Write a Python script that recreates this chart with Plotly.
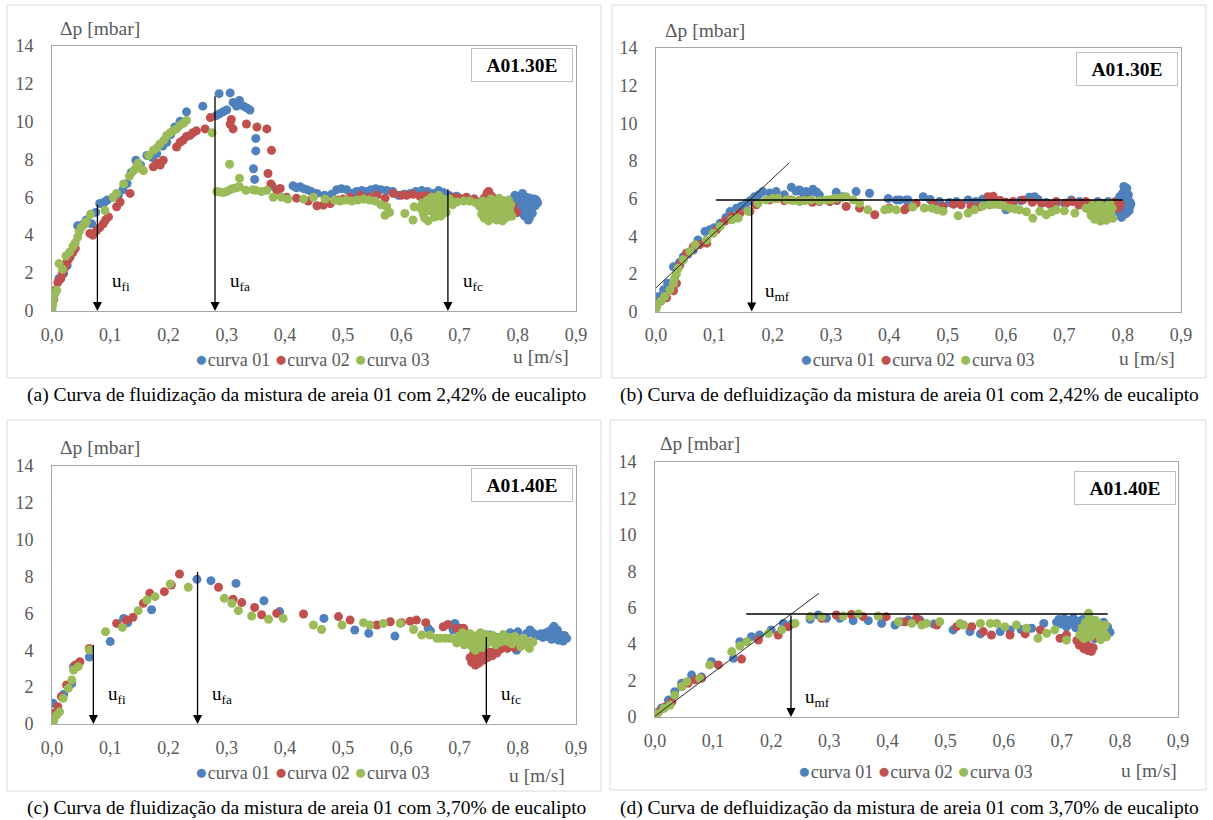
import plotly.graph_objects as go

# ---------------------------------------------------------------------------
# Measured bed pressure drop (mbar) against superficial velocity u (m/s)
# (u, dp) pairs for each run ("curva") of each test
# ---------------------------------------------------------------------------

# (a) fluidization, A01.30E
A_CURVA01 = [(0.000,0.40),(0.002,0.67),(0.006,1.00),(0.012,1.72),(0.020,1.98),(0.026,2.40),(0.031,2.86),(0.038,3.30),
    (0.044,4.49),(0.052,4.55),(0.059,4.80),(0.068,4.60),(0.075,5.20),(0.082,5.67),(0.090,5.75),(0.095,5.85),
    (0.105,6.00),(0.114,6.10),(0.122,6.40),(0.129,6.72),(0.136,7.30),(0.144,7.95),(0.152,7.70),(0.163,8.20),
    (0.172,8.10),(0.180,8.30),(0.190,8.70),(0.197,8.90),(0.204,9.30),(0.211,9.70),(0.220,10.00),(0.231,10.50),
    (0.259,10.80),(0.282,10.30),(0.287,11.46),(0.288,10.40),(0.294,10.50),(0.300,10.60),(0.306,11.50),(0.311,11.00),
    (0.317,10.80),(0.322,11.10),(0.329,10.80),(0.335,10.70),(0.340,10.60),(0.350,9.10),(0.350,8.44),(0.346,7.50),
    (0.348,6.94),(0.378,6.60),(0.414,6.60),(0.420,6.50),(0.426,6.55),(0.432,6.45),(0.438,6.40),(0.445,6.30),
    (0.455,6.20),(0.468,6.10),(0.480,6.15),(0.489,6.40),(0.497,6.45),(0.506,6.40),(0.515,6.20),(0.523,6.30),
    (0.532,6.35),(0.540,6.30),(0.548,6.40),(0.556,6.45),(0.565,6.40),(0.575,6.35),(0.585,6.30),(0.595,6.10),
    (0.605,6.15),(0.615,6.20),(0.625,6.30),(0.635,6.35),(0.645,6.30),(0.655,6.20),(0.664,6.35),(0.672,6.25),
    (0.682,6.10),(0.695,6.05),(0.710,5.95),(0.725,5.90),(0.740,5.85),(0.760,5.90),(0.775,5.80),
    (0.790,5.40),(0.792,5.90),(0.795,6.10),(0.798,5.60),(0.800,5.20),(0.802,6.00),(0.805,5.70),(0.806,5.35),
    (0.808,6.20),(0.810,5.50),(0.811,5.05),(0.813,5.80),(0.815,6.00),(0.816,5.30),(0.818,5.60),(0.820,4.90),
    (0.821,5.95),(0.823,5.45),(0.825,5.15),(0.826,5.75),(0.828,5.90),(0.830,5.55),(0.832,5.85),(0.834,5.70),
    (0.818,4.80),(0.812,5.00)]
A_CURVA02 = [(0.000,0.30),(0.003,0.60),(0.005,1.10),(0.010,1.50),(0.015,1.70),(0.018,1.98),(0.022,2.30),(0.024,2.50),
    (0.028,2.70),(0.031,2.86),(0.036,3.10),(0.040,3.30),(0.065,4.09),(0.070,4.00),(0.077,4.26),(0.082,4.40),
    (0.088,4.60),(0.092,4.80),(0.097,4.96),(0.111,5.50),(0.117,5.75),(0.134,6.20),(0.174,7.60),(0.180,7.80),
    (0.186,7.70),(0.191,7.95),(0.214,8.65),(0.220,8.90),(0.225,9.00),(0.231,9.20),(0.237,9.26),(0.242,9.40),
    (0.248,9.50),(0.263,9.60),(0.272,10.20),(0.306,9.86),(0.311,9.60),(0.308,10.10),(0.334,9.86),(0.352,9.70),
    (0.369,9.60),(0.377,8.47),(0.371,7.25),(0.376,6.70),(0.386,6.37),(0.392,6.46),(0.403,6.00),(0.420,5.95),
    (0.440,5.80),(0.455,5.55),(0.466,5.58),(0.478,5.66),(0.490,5.85),(0.500,5.90),(0.512,6.00),(0.530,6.10),
    (0.545,6.00),(0.558,6.10),(0.572,5.95),(0.586,6.20),(0.600,6.10),(0.609,6.10),(0.620,6.15),(0.632,6.05),
    (0.643,6.10),(0.655,6.00),(0.668,5.95),(0.689,6.00),(0.700,5.95),(0.712,6.00),(0.725,5.90),(0.735,5.70),
    (0.742,5.95),(0.747,6.20),(0.750,6.30),(0.752,5.80),(0.755,6.05),(0.758,5.90),(0.760,5.40),(0.765,5.65),
    (0.770,5.50),(0.775,5.30),(0.780,5.60),(0.785,5.75),(0.792,5.50),(0.798,5.20)]
A_CURVA03 = [(0.000,0.05),(0.001,0.30),(0.002,0.60),(0.005,0.90),(0.008,1.10),(0.012,2.50),(0.018,2.20),(0.024,2.90),
    (0.030,3.10),(0.036,3.40),(0.040,3.60),(0.044,3.90),(0.047,4.20),(0.050,4.40),(0.055,4.55),(0.059,4.70),
    (0.066,5.10),(0.091,5.30),(0.105,6.00),(0.111,6.20),(0.123,6.70),(0.133,7.10),(0.140,7.40),(0.145,7.60),
    (0.148,7.80),(0.153,7.50),(0.157,7.40),(0.166,8.20),(0.174,8.47),(0.180,8.60),(0.185,8.80),(0.192,9.00),
    (0.197,9.26),(0.203,9.40),(0.208,9.50),(0.214,9.60),(0.220,9.80),(0.226,9.90),(0.231,10.05),(0.275,9.40),
    (0.283,6.30),(0.288,6.28),(0.294,6.25),(0.300,6.30),(0.306,6.40),(0.311,6.46),(0.317,6.50),(0.322,6.55),
    (0.322,7.00),(0.305,7.74),(0.333,6.37),(0.345,6.40),(0.350,6.37),(0.360,6.30),(0.369,6.37),(0.380,6.00),
    (0.394,6.00),(0.405,5.90),(0.432,5.90),(0.449,6.00),(0.469,5.90),(0.485,5.85),(0.495,5.80),(0.505,5.85),
    (0.515,5.80),(0.525,5.85),(0.535,5.90),(0.545,5.85),(0.555,5.80),(0.565,5.60),(0.575,5.50),(0.572,5.05),
    (0.580,5.20),(0.606,5.14),(0.620,4.80),(0.622,5.50),
    (0.633,5.40),(0.636,5.70),(0.638,5.10),(0.640,4.90),(0.642,5.55),(0.645,5.85),(0.646,4.75),(0.648,5.30),
    (0.650,5.65),(0.652,6.00),(0.655,5.20),(0.657,4.95),(0.659,5.50),(0.661,5.80),(0.664,6.10),(0.665,5.35),
    (0.668,5.00),(0.670,5.60),(0.672,5.90),(0.675,5.45),(0.677,5.20),(0.680,5.70),(0.683,5.90),(0.688,5.60),
    (0.695,5.75),(0.707,5.80),(0.718,5.80),(0.728,5.70),
    (0.735,5.50),(0.738,5.10),(0.740,5.80),(0.742,4.90),(0.745,5.30),(0.748,5.60),(0.750,4.75),(0.752,5.15),
    (0.754,5.90),(0.756,5.40),(0.758,4.95),(0.760,5.70),(0.762,5.25),(0.764,4.80),(0.766,5.55),(0.768,5.95),
    (0.770,5.05),(0.772,5.40),(0.774,4.75),(0.776,5.75),(0.778,5.20),(0.780,5.50),(0.782,4.95),(0.784,5.85),
    (0.786,5.30),(0.788,5.60),(0.790,5.00)]

# (b) defluidization, A01.30E
B_CURVA01 = [(0.000,0.25),(0.000,0.44),(0.005,0.80),(0.013,1.15),(0.020,1.50),(0.030,2.38),(0.040,2.60),(0.047,2.91),
    (0.055,3.05),(0.064,3.27),(0.072,3.80),(0.084,4.25),(0.092,4.34),(0.100,4.45),(0.110,4.69),(0.120,5.00),
    (0.127,5.31),(0.138,5.49),(0.146,5.60),(0.155,5.75),(0.162,5.90),(0.169,6.10),(0.176,6.20),(0.183,6.37),
    (0.195,6.30),(0.206,6.37),(0.220,6.20),(0.232,6.60),(0.240,6.40),(0.246,6.46),(0.252,6.30),(0.257,6.37),
    (0.263,6.25),(0.269,6.50),(0.275,6.35),(0.280,6.20),(0.309,6.33),(0.320,6.10),(0.343,6.37),(0.366,6.28),
    (0.398,6.00),(0.412,5.93),(0.418,5.93),(0.429,5.93),(0.432,5.93),(0.458,6.10),(0.470,5.95),(0.486,5.84),
    (0.503,5.79),(0.515,5.84),(0.535,5.93),(0.548,5.85),(0.560,5.97),(0.572,5.67),(0.585,5.80),(0.600,5.40),
    (0.612,5.75),(0.625,5.90),(0.640,6.07),(0.649,6.10),(0.655,5.95),(0.669,5.79),(0.685,5.70),(0.700,5.75),
    (0.712,5.93),(0.726,5.84),(0.740,5.70),(0.757,5.84),(0.765,5.75),(0.775,5.84),
    (0.789,5.60),(0.791,5.90),(0.793,5.30),(0.795,6.10),(0.797,5.50),(0.799,6.25),(0.800,5.10),(0.801,5.75),
    (0.803,6.40),(0.804,5.40),(0.805,6.00),(0.806,5.20),(0.807,6.55),(0.808,5.65),(0.809,5.85),(0.810,6.20),
    (0.811,5.35),(0.812,5.55),(0.813,5.80),(0.814,5.70),(0.802,6.64),(0.798,5.00)]
B_CURVA02 = [(0.000,0.20),(0.008,0.55),(0.018,0.73),(0.030,1.10),(0.035,1.50),(0.041,2.47),(0.052,3.10),(0.064,3.45),
    (0.075,3.55),(0.087,3.63),(0.104,4.34),(0.118,4.80),(0.130,5.05),(0.144,5.23),(0.161,5.32),(0.172,5.67),
    (0.195,5.93),(0.206,6.02),(0.220,5.90),(0.232,5.93),(0.245,5.88),(0.257,5.93),(0.268,5.80),(0.280,5.84),
    (0.298,5.84),(0.310,5.90),(0.326,5.58),(0.349,5.49),(0.375,5.14),(0.400,5.50),(0.426,5.40),(0.429,5.49),
    (0.446,5.75),(0.475,5.75),(0.492,5.58),(0.510,5.70),(0.523,5.67),(0.540,5.60),(0.555,5.58),(0.569,6.10),
    (0.578,6.12),(0.590,5.90),(0.600,5.80),(0.612,5.84),(0.629,5.93),(0.645,5.80),(0.661,5.75),(0.675,5.70),
    (0.686,5.84),(0.703,5.75),(0.714,5.84),(0.725,5.65),(0.737,5.84),(0.748,5.70),(0.760,5.75),(0.770,5.60),
    (0.778,5.67),(0.785,5.80),(0.792,5.49),(0.796,5.70)]
B_CURVA03 = [(0.000,0.02),(0.001,0.30),(0.008,0.55),(0.015,0.80),(0.024,1.15),(0.030,1.50),(0.032,1.77),(0.035,2.00),
    (0.038,2.30),(0.047,2.75),(0.058,3.19),(0.067,3.54),(0.087,3.80),(0.098,4.16),(0.110,4.52),(0.130,4.87),
    (0.141,4.96),(0.158,5.32),(0.175,5.75),(0.189,5.93),(0.200,6.00),(0.209,6.02),(0.224,5.93),(0.235,5.90),
    (0.246,5.84),(0.255,5.90),(0.266,5.93),(0.280,5.88),(0.292,5.93),(0.300,5.95),(0.309,6.02),(0.318,6.05),
    (0.326,6.10),(0.338,5.93),(0.349,5.75),(0.363,5.40),(0.392,5.40),(0.400,5.45),(0.412,5.40),(0.440,5.55),
    (0.460,5.50),(0.473,5.49),(0.482,5.40),(0.492,5.32),(0.518,5.09),(0.535,5.23),(0.546,5.40),(0.560,5.60),
    (0.572,5.67),(0.580,5.70),(0.589,5.67),(0.597,5.60),(0.606,5.49),(0.615,5.45),(0.623,5.40),(0.635,5.30),
    (0.646,4.96),(0.658,5.32),(0.669,5.14),(0.678,5.30),(0.686,5.40),(0.700,5.35),(0.718,5.23),(0.737,5.49),
    (0.743,5.40),(0.746,5.10),(0.748,5.65),(0.750,5.30),(0.752,4.90),(0.755,5.50),(0.757,5.20),(0.760,5.70),
    (0.762,4.80),(0.764,5.35),(0.766,5.55),(0.768,5.05),(0.770,5.45),(0.772,4.85),(0.774,5.60),(0.776,5.25),
    (0.778,5.75),(0.780,5.10),(0.782,5.50),(0.783,4.95)]

# (c) fluidization, A01.40E
C_CURVA01 = [(0.002,1.12),(0.020,1.60),(0.034,2.20),(0.037,3.11),(0.045,3.20),(0.064,3.63),(0.100,4.47),(0.123,5.73),
    (0.130,5.50),(0.171,6.20),(0.249,7.85),(0.273,7.78),(0.316,7.63),(0.364,6.69),(0.391,6.10),(0.467,5.73),
    (0.520,5.10),(0.544,4.92),(0.589,4.77),(0.646,5.19),(0.650,5.05),(0.689,5.10),(0.692,5.46),(0.700,5.20),
    (0.752,4.83),(0.765,4.70),(0.787,4.95),(0.798,4.00),(0.800,5.00),(0.815,4.90),
    (0.821,5.10),(0.825,4.95),(0.830,4.85),(0.835,4.80),(0.840,4.90),(0.843,4.70),(0.846,4.85),(0.849,4.95),
    (0.852,4.75),(0.855,5.05),(0.858,4.60),(0.860,5.20),(0.862,5.30),(0.864,4.90),(0.866,4.70),(0.868,5.10),
    (0.870,4.55),(0.872,4.85),(0.875,4.70),(0.878,4.50),(0.880,4.80),(0.884,4.65)]
C_CURVA02 = [(0.002,0.58),(0.010,0.94),(0.016,1.48),(0.025,2.12),(0.040,3.20),(0.048,3.38),(0.064,4.10),(0.111,5.46),
    (0.128,5.64),(0.139,5.79),(0.157,6.55),(0.168,7.09),(0.193,7.18),(0.205,7.54),(0.219,8.14),(0.286,7.42),
    (0.311,6.77),(0.326,6.59),(0.348,6.32),(0.360,5.93),(0.386,6.00),(0.432,5.97),(0.492,5.83),(0.512,5.64),
    (0.558,5.37),(0.581,5.55),(0.600,5.50),(0.615,5.58),(0.626,5.64),(0.642,5.50),(0.672,5.28),(0.680,5.40),
    (0.695,5.19),(0.707,5.19),(0.712,4.90),
    (0.718,3.60),(0.721,3.35),(0.724,3.80),(0.727,3.20),(0.730,3.50),(0.733,3.30),(0.736,3.70),(0.740,3.45),
    (0.744,3.80),(0.748,3.60),(0.752,3.90),(0.756,3.70),(0.760,3.95),(0.764,3.85),
    (0.770,4.05),(0.776,4.20),(0.782,4.10),(0.788,4.30),(0.794,4.15),(0.800,4.40),(0.806,4.25),(0.812,4.50),
    (0.818,4.35),(0.824,4.45)]
C_CURVA03 = [(0.002,0.00),(0.003,0.20),(0.008,0.48),(0.013,0.66),(0.019,1.40),(0.028,1.94),(0.034,2.39),(0.037,2.93),
    (0.045,3.11),(0.064,4.02),(0.092,5.01),(0.121,5.24),(0.148,6.15),(0.163,6.73),(0.177,6.91),(0.203,7.60),
    (0.234,7.42),(0.296,6.82),(0.309,6.55),(0.320,6.15),(0.343,5.86),(0.372,5.68),(0.397,5.73),(0.449,5.37),
    (0.463,5.13),(0.498,5.37),(0.535,5.50),(0.546,5.37),(0.569,5.46),(0.598,5.46),(0.621,5.13),(0.635,4.83),
    (0.649,4.83),(0.661,4.65),(0.668,4.65),(0.676,4.65),(0.684,4.65),
    (0.695,4.40),(0.698,4.75),(0.702,4.55),(0.705,4.95),(0.708,4.30),(0.712,4.70),(0.715,4.50),(0.718,4.90),
    (0.721,4.20),(0.724,4.65),(0.727,4.00),(0.730,4.80),(0.733,4.40),(0.736,4.95),(0.739,4.15),(0.742,4.60),
    (0.745,4.85),(0.747,4.35),
    (0.752,4.55),(0.757,4.80),(0.762,4.30),(0.766,4.65),(0.770,4.45),(0.775,4.85),(0.780,4.50),(0.785,4.70),
    (0.790,4.35),(0.795,4.75),(0.800,4.55),(0.805,4.20),(0.810,4.65),(0.815,4.40),(0.820,4.10),(0.826,4.45)]

# (d) defluidization, A01.40E
D_CURVA01 = [(0.000,0.10),(0.011,0.48),(0.023,0.93),(0.034,1.39),(0.046,1.85),(0.063,2.30),(0.080,2.20),(0.097,3.04),
    (0.135,3.22),(0.146,4.13),(0.166,4.41),(0.180,4.50),(0.200,4.78),(0.221,5.14),(0.235,5.10),(0.267,5.36),
    (0.281,5.60),(0.295,5.42),(0.318,5.42),(0.341,5.29),(0.367,5.29),(0.390,5.14),(0.413,5.05),(0.422,5.23),
    (0.436,5.32),(0.456,5.32),(0.480,5.10),(0.513,4.78),(0.542,4.69),(0.560,4.56),(0.594,4.69),(0.611,4.78),
    (0.630,4.80),(0.648,4.87),(0.669,5.14),
    (0.691,5.20),(0.695,5.35),(0.700,5.10),(0.704,5.40),(0.708,4.95),(0.712,5.30),(0.716,5.15),(0.720,5.42),
    (0.724,4.90),(0.728,5.25),(0.732,5.05),(0.736,5.35),(0.740,4.70),(0.744,5.20),(0.748,4.50),(0.752,5.00),
    (0.756,4.30),(0.760,5.10),(0.764,4.60),(0.768,4.90),(0.772,5.20),(0.776,4.75),(0.779,4.95),(0.783,4.65)]
D_CURVA02 = [(0.000,0.00),(0.006,0.28),(0.017,0.55),(0.029,0.83),(0.046,1.67),(0.057,1.85),(0.069,2.04),(0.080,2.12),
    (0.109,2.86),(0.149,3.18),(0.178,4.23),(0.212,4.50),(0.229,4.96),(0.267,5.51),(0.287,5.42),(0.312,5.60),
    (0.338,5.63),(0.358,5.51),(0.398,5.51),(0.430,5.23),(0.450,5.42),(0.453,5.32),(0.485,5.05),(0.519,4.96),
    (0.545,4.96),(0.565,4.69),(0.579,4.50),(0.611,4.50),(0.637,4.56),(0.663,4.78),(0.697,4.32),(0.708,4.50),
    (0.726,4.20),(0.730,3.95),(0.734,4.10),(0.738,3.75),(0.742,4.00),(0.745,3.65),(0.748,3.85),(0.751,3.60),
    (0.754,3.80),(0.740,4.40),(0.750,4.60),(0.758,4.40)]
D_CURVA03 = [(0.000,0.00),(0.004,0.18),(0.015,0.46),(0.026,0.64),(0.034,1.20),(0.046,1.67),(0.055,1.94),(0.077,2.12),
    (0.094,2.86),(0.132,3.59),(0.146,3.90),(0.158,4.13),(0.195,4.59),(0.218,4.78),(0.241,5.14),(0.267,5.51),
    (0.287,5.51),(0.324,5.54),(0.350,5.66),(0.384,5.54),(0.419,5.23),(0.442,5.14),(0.459,5.05),(0.467,5.14),
    (0.490,5.23),(0.525,5.14),(0.531,5.05),(0.560,5.14),(0.577,5.14),(0.588,5.14),(0.602,4.96),(0.622,5.05),
    (0.639,4.87),(0.659,4.32),(0.674,4.60),(0.688,4.78),(0.708,4.23),
    (0.731,4.50),(0.735,4.90),(0.738,4.30),(0.741,5.20),(0.744,4.65),(0.746,5.69),(0.748,5.40),(0.750,4.40),
    (0.752,5.00),(0.755,4.80),(0.758,5.30),(0.761,4.55),(0.764,5.10),(0.767,4.25),(0.770,4.85),(0.773,4.60),
    (0.775,5.05),(0.777,4.40)]

# Characteristic velocities (m/s) and the pressure drop where each arrow starts
A_MARKS = [("fi", 0.078, 5.68), ("fa", 0.280, 11.4), ("fc", 0.680, 6.5)]
C_MARKS = [("fi", 0.071, 4.37), ("fa", 0.250, 8.33), ("fc", 0.746, 4.8)]
# Minimum fluidization construction: fixed-bed tangent and fluidized-bed plateau
B_TANGENT_U, B_TANGENT_DP = [0.0, 0.228], [1.26, 7.89]
B_PLATEAU_U, B_PLATEAU_DP = [0.103, 0.800], 5.93
B_UMF = 0.164
D_TANGENT_U, D_TANGENT_DP = [0.0, 0.282], [0.05, 6.79]
D_PLATEAU_U, D_PLATEAU_DP = [0.157, 0.779], 5.66
D_UMF = 0.234

CURVE_NAMES = ["curva 01", "curva 02", "curva 03"]
COLORS = ["#4F81BD", "#C0504D", "#9BBB59"]
SERIF = "Liberation Serif"
GREY = "#595959"

W, H = 1213, 820


def px(x):
    return x / W


def py(y):
    return 1 - y / H


# panel geometry in pixels: plot box (x0, x1, top, bottom), outer frame, label spots
PANELS = [
    dict(data=[A_CURVA01, A_CURVA02, A_CURVA03], box=(52, 576, 45.5, 311), frame=(7, 601, 5, 378),
         tag="A01.30E", tag_c=(522, 65), dp_lab=(58, 28), u_lab=(571, 357), leg=(312, 359), cap_y=395, cap_x=306,
         caption="(a) Curva de fluidização da mistura de areia 01 com 2,42% de eucalipto"),
    dict(data=[B_CURVA01, B_CURVA02, B_CURVA03], box=(656, 1181, 48, 311.5), frame=(612, 1206, 5, 378),
         tag="A01.30E", tag_c=(1127, 69), dp_lab=(663, 30), u_lab=(1177, 359), leg=(917, 359), cap_y=395, cap_x=909,
         caption="(b) Curva de defluidização da mistura de areia 01 com 2,42% de eucalipto"),
    dict(data=[C_CURVA01, C_CURVA02, C_CURVA03], box=(52, 576, 466, 724), frame=(7, 601, 420, 791),
         tag="A01.40E", tag_c=(522, 485), dp_lab=(58, 447), u_lab=(567, 775), leg=(312, 772), cap_y=808, cap_x=306,
         caption="(c) Curva de fluidização da mistura de areia 01 com 3,70% de eucalipto"),
    dict(data=[D_CURVA01, D_CURVA02, D_CURVA03], box=(655, 1178, 462, 717), frame=(610, 1206, 420, 790),
         tag="A01.40E", tag_c=(1125, 488), dp_lab=(658, 443), u_lab=(1179, 770), leg=(916, 771), cap_y=808, cap_x=909,
         caption="(d) Curva de defluidização da mistura de areia 01 com 3,70% de eucalipto"),
]

fig = go.Figure()
layout = dict(
    width=W, height=H, autosize=False,
    margin=dict(l=0, r=0, t=0, b=0),
    paper_bgcolor="white", plot_bgcolor="white",
    separators=",.",
    font=dict(family=SERIF, size=18, color=GREY),
    showlegend=False,
)
annotations = []
shapes = []

for i, p in enumerate(PANELS):
    n = "" if i == 0 else str(i + 1)
    xa, ya = "x" + n, "y" + n
    x0, x1, top, bot = p["box"]
    layout["xaxis" + n] = dict(
        domain=[px(x0), px(x1)], range=[0, 0.9], dtick=0.1, tick0=0, tickformat=".1f",
        anchor=ya, showgrid=False, zeroline=False, ticks="", automargin=False,
        showline=True, mirror=True, linecolor="#A6A6A6", linewidth=1,
        tickfont=dict(family=SERIF, size=18, color=GREY), ticklabelstandoff=7,
    )
    layout["yaxis" + n] = dict(
        domain=[py(bot), py(top)], range=[0, 14], dtick=2, tick0=0,
        anchor=xa, showgrid=False, zeroline=False, ticks="", automargin=False,
        showline=True, mirror=True, linecolor="#A6A6A6", linewidth=1,
        tickfont=dict(family=SERIF, size=18, color=GREY), ticklabelstandoff=14,
    )

    for k, series in enumerate(p["data"]):
        fig.add_trace(go.Scatter(
            x=[u for u, _ in series], y=[d for _, d in series],
            mode="markers", name=CURVE_NAMES[k],
            marker=dict(color=COLORS[k], size=9, line=dict(width=0)),
            xaxis=xa, yaxis=ya,
        ))

    # series key under each plot: coloured dot followed by the run name
    key = "&nbsp;".join(
        '<span style="color:%s;font-size:21px">●</span>%s' % (c, nm)
        for c, nm in zip(COLORS, CURVE_NAMES)
    )
    lx, ly = p["leg"]
    annotations.append(dict(xref="paper", yref="paper", x=px(lx), y=py(ly), xanchor="center", yanchor="middle",
                            text=key, showarrow=False, font=dict(family=SERIF, size=18, color=GREY)))

    # outer frame around each sub-figure
    fx0, fx1, fy0, fy1 = p["frame"]
    shapes.append(dict(type="rect", xref="paper", yref="paper",
                       x0=px(fx0), x1=px(fx1), y0=py(fy1), y1=py(fy0),
                       line=dict(color="#D9D9D9", width=1), fillcolor="rgba(0,0,0,0)", layer="below"))

    # test identifier box
    tx, ty = p["tag_c"]
    annotations.append(dict(
        xref="paper", yref="paper", x=px(tx), y=py(ty), xanchor="center", yanchor="middle",
        text="<b>" + p["tag"] + "</b>", showarrow=False, width=98, height=30,
        bordercolor="#BFBFBF", borderwidth=1, borderpad=1, bgcolor="white",
        font=dict(family=SERIF, size=19.5, color="black"),
    ))
    # axis titles
    dx, dy = p["dp_lab"]
    annotations.append(dict(xref="paper", yref="paper", x=px(dx), y=py(dy), xanchor="left", yanchor="middle",
                            text="Δp [mbar]", showarrow=False, font=dict(family=SERIF, size=19.5, color=GREY)))
    ux, uy = p["u_lab"]
    annotations.append(dict(xref="paper", yref="paper", x=px(ux), y=py(uy), xanchor="right", yanchor="middle",
                            text="u [m/s]", showarrow=False, font=dict(family=SERIF, size=19.5, color=GREY)))
    # caption
    annotations.append(dict(xref="paper", yref="paper", x=px(p["cap_x"]), y=py(p["cap_y"]),
                            xanchor="center", yanchor="middle", text=p["caption"], showarrow=False,
                            font=dict(family=SERIF, size=19.5, color="black")))


def arrow(xa, ya, u, dp_top):
    return dict(xref=xa, yref=ya, axref=xa, ayref=ya, x=u, y=0, ax=u, ay=dp_top,
                text="", showarrow=True, arrowhead=2, arrowsize=1.4, arrowwidth=1.3,
                arrowcolor="black", standoff=0, startstandoff=0)


def u_label(xa, ya, u, dp, sub):
    return dict(xref=xa, yref=ya, x=u, y=dp, xanchor="left", yanchor="middle",
                text="u<sub>" + sub + "</sub>", showarrow=False,
                font=dict(family=SERIF, size=19, color="black"))


# characteristic velocities on the fluidization curves
for (xa, ya, marks) in [("x", "y", A_MARKS), ("x3", "y3", C_MARKS)]:
    for sub, u, top in marks:
        annotations.append(arrow(xa, ya, u, top))
        annotations.append(u_label(xa, ya, u + 0.022, 1.55, sub))

# minimum fluidization construction on the defluidization curves
for (xa, ya, tu, tdp, pu, pdp, umf) in [
    ("x2", "y2", B_TANGENT_U, B_TANGENT_DP, B_PLATEAU_U, B_PLATEAU_DP, B_UMF),
    ("x4", "y4", D_TANGENT_U, D_TANGENT_DP, D_PLATEAU_U, D_PLATEAU_DP, D_UMF),
]:
    fig.add_trace(go.Scatter(x=tu, y=tdp, mode="lines", line=dict(color="#262626", width=1),
                             xaxis=xa, yaxis=ya, hoverinfo="skip"))
    fig.add_trace(go.Scatter(x=pu, y=[pdp, pdp], mode="lines", line=dict(color="black", width=1.5),
                             xaxis=xa, yaxis=ya, hoverinfo="skip"))
    annotations.append(arrow(xa, ya, umf, pdp))
    annotations.append(u_label(xa, ya, umf + 0.02, 1.05, "mf"))

layout["annotations"] = annotations
layout["shapes"] = shapes
fig.update_layout(**layout)
# the page body gets no default margin so the figure sits at the window's corner
fig.write_html("out.html", post_script="document.body.style.margin='0';")
